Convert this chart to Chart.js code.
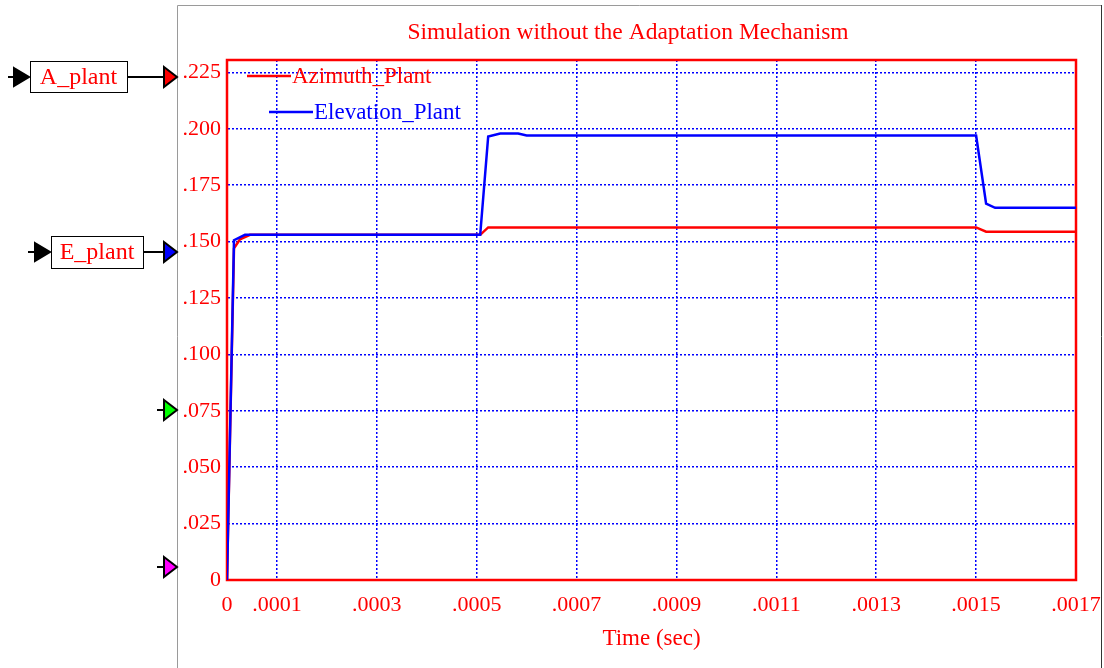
<!DOCTYPE html>
<html>
<head>
<meta charset="utf-8">
<script src="https://cdn.jsdelivr.net/npm/chart.js@4.4.0/dist/chart.umd.min.js"></script>
<style>
  html, body { margin: 0; padding: 0; background: #fff; }
  #wrap { width: 1104px; height: 668px; }
</style>
</head>
<body>
<div id="wrap"><canvas id="simChart" width="1104" height="668"></canvas></div>
<script>
// Data
const azimuthTime = [0, 0.000014, 0.000026, 0.000046, 0.000507, 0.000523, 0.0015, 0.00152, 0.0017];
const azimuthValues = [0, 0.147, 0.151, 0.153, 0.153, 0.1563, 0.1563, 0.1544, 0.1544];

const elevationTime = [0, 0.000014, 0.000036, 0.000507, 0.000523, 0.000547, 0.000583, 0.0006, 0.0015, 0.00152, 0.001538, 0.0017];
const elevationValues = [0, 0.1506, 0.153, 0.153, 0.1966, 0.1979, 0.1979, 0.197, 0.197, 0.1668, 0.165, 0.165];

const xTicks = [0, 0.0001, 0.0003, 0.0005, 0.0007, 0.0009, 0.0011, 0.0013, 0.0015, 0.0017];
const yTicks = [0, 0.025, 0.05, 0.075, 0.1, 0.125, 0.15, 0.175, 0.2, 0.225];

const RED = '#ff0000';
const BLUE = '#0000ff';
const SERIF = '"Liberation Serif", "Times New Roman", serif';

function toPoints(xs, ys) {
    return xs.map((x, i) => ({ x: x, y: ys[i] }));
}

function noLeadZero(v, digits) {
    if (Math.abs(v) < 1e-12) return '0';
    return v.toFixed(digits).replace(/^0/, '');
}

// frame, plot border and block-diagram ports on the left
const decorPlugin = {
    id: 'decor',
    beforeDatasetsDraw(chart) {
        const { ctx, chartArea: a } = chart;
        ctx.save();
        ctx.strokeStyle = RED;
        ctx.lineWidth = 2.5;
        ctx.strokeRect(a.left, a.top, a.right - a.left, a.bottom - a.top);
        ctx.restore();
    },
    afterDraw(chart) {
        const ctx = chart.ctx;
        ctx.save();
        // outer window frame
        ctx.strokeStyle = '#9a9a9a';
        ctx.lineWidth = 1;
        ctx.beginPath();
        ctx.moveTo(177.5, 668);
        ctx.lineTo(177.5, 5.5);
        ctx.lineTo(1101, 5.5);
        ctx.stroke();
        ctx.strokeStyle = '#333';
        ctx.beginPath();
        ctx.moveTo(1101.5, 5);
        ctx.lineTo(1101.5, 668);
        ctx.stroke();

        function tri(x0, x1, y, h, fill) {
            ctx.beginPath();
            ctx.moveTo(x0, y - h);
            ctx.lineTo(x1, y);
            ctx.lineTo(x0, y + h);
            ctx.closePath();
            ctx.fillStyle = fill;
            ctx.fill();
            ctx.strokeStyle = '#000';
            ctx.lineWidth = 2;
            ctx.stroke();
        }
        function wire(x0, x1, y) {
            ctx.beginPath();
            ctx.moveTo(x0, y);
            ctx.lineTo(x1, y);
            ctx.strokeStyle = '#000';
            ctx.lineWidth = 2;
            ctx.stroke();
        }
        function box(x, y, w, h, label) {
            ctx.fillStyle = '#fff';
            ctx.fillRect(x, y, w, h);
            ctx.strokeStyle = '#000';
            ctx.lineWidth = 1;
            ctx.strokeRect(x + 0.5, y + 0.5, w, h);
            ctx.fillStyle = RED;
            ctx.font = '24px ' + SERIF;
            ctx.textAlign = 'center';
            ctx.textBaseline = 'middle';
            ctx.fillText(label, x + w / 2, y + h / 2 + 1);
        }

        // A_plant
        wire(8, 14, 77);
        tri(14, 29, 77, 9, '#000');
        box(30, 61, 97, 31, 'A_plant');
        wire(128, 164, 77);
        tri(164, 177, 77, 10, RED);

        // E_plant
        wire(28, 35, 252);
        tri(35, 50, 252, 9, '#000');
        box(51, 236, 92, 32, 'E_plant');
        wire(144, 164, 252);
        tri(164, 177, 252, 10, BLUE);

        // unused ports
        wire(157, 164, 410);
        tri(164, 177, 410, 10, '#00ff00');
        wire(157, 164, 567);
        tri(164, 177, 567, 10, '#ff00ff');
        ctx.restore();
    }
};

// staggered legend inside the plot
const legendPlugin = {
    id: 'insideLegend',
    afterDatasetsDraw(chart) {
        const ctx = chart.ctx;
        const spots = [{ x: 247, y: 76 }, { x: 269, y: 112 }];
        ctx.save();
        ctx.font = '23px ' + SERIF;
        ctx.textBaseline = 'middle';
        ctx.textAlign = 'left';
        chart.data.datasets.forEach((ds) => {
            const s = spots[ds.legendSlot];
            ctx.strokeStyle = ds.borderColor;
            ctx.lineWidth = 2.5;
            ctx.beginPath();
            ctx.moveTo(s.x, s.y);
            ctx.lineTo(s.x + 44, s.y);
            ctx.stroke();
            ctx.fillStyle = ds.borderColor;
            ctx.fillText(ds.label, s.x + 45, s.y + 1);
        });
        ctx.restore();
    }
};

const ctx = document.getElementById('simChart').getContext('2d');
new Chart(ctx, {
    type: 'line',
    data: {
        datasets: [{
            label: 'Elevation_Plant',
            data: toPoints(elevationTime, elevationValues),
            borderColor: BLUE,
            borderWidth: 2.5,
            pointRadius: 0,
            tension: 0,
            fill: false,
            order: 0,
            legendSlot: 1
        }, {
            label: 'Azimuth_Plant',
            data: toPoints(azimuthTime, azimuthValues),
            borderColor: RED,
            borderWidth: 2.5,
            pointRadius: 0,
            tension: 0,
            fill: false,
            order: 1,
            legendSlot: 0
        }]
    },
    options: {
        responsive: false,
        animation: false,
        layout: {
            autoPadding: false,
            padding: { left: 180, right: 28, top: 0, bottom: 0 }
        },
        plugins: {
            legend: { display: false },
            tooltip: { enabled: false },
            title: {
                display: true,
                text: 'Simulation without the Adaptation Mechanism',
                color: RED,
                font: { family: SERIF, size: 23.5, weight: 'normal', lineHeight: 1.2 },
                padding: { top: 19, bottom: 12.8 }
            }
        },
        scales: {
            x: {
                type: 'linear',
                min: 0,
                max: 0.0017,
                afterBuildTicks: (scale) => { scale.ticks = xTicks.map(v => ({ value: v })); },
                afterFit: (scale) => {
                    scale.height = 88;
                    scale.paddingLeft = 0;
                    scale.paddingRight = 0;
                },
                grid: { color: BLUE, lineWidth: 1.5, drawTicks: false },
                border: { color: RED, width: 2, dash: [2, 2] },
                ticks: {
                    color: RED,
                    autoSkip: false,
                    maxRotation: 0,
                    padding: 12,
                    font: { family: SERIF, size: 22 },
                    callback: (v) => noLeadZero(v, 4)
                },
                title: {
                    display: true,
                    text: 'Time (sec)',
                    color: RED,
                    font: { family: SERIF, size: 23 },
                    padding: { top: 4, bottom: 15 }
                }
            },
            y: {
                min: 0,
                max: 0.2305,
                afterBuildTicks: (scale) => { scale.ticks = yTicks.map(v => ({ value: v })); },
                afterFit: (scale) => {
                    scale.width = 47;
                    scale.paddingTop = 0;
                    scale.paddingBottom = 0;
                },
                grid: { color: BLUE, lineWidth: 1.5, drawTicks: false },
                border: { color: RED, width: 2, dash: [2, 2] },
                ticks: {
                    color: RED,
                    padding: 6,
                    font: { family: SERIF, size: 22 },
                    callback: (v) => noLeadZero(v, 3)
                }
            }
        }
    },
    plugins: [decorPlugin, legendPlugin]
});
</script>
</body>
</html>
